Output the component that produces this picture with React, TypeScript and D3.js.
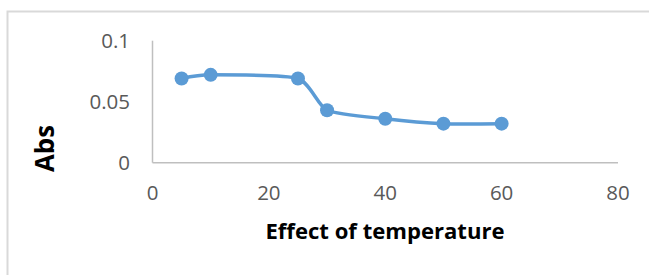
import React, { useEffect, useRef } from 'react';
import * as d3 from 'd3';

const temps = [5, 10, 25, 30, 40, 50, 60];
const absValues = [0.069, 0.072, 0.069, 0.043, 0.036, 0.032, 0.032];
const xTicks = [0, 20, 40, 60, 80];
const yTicks = [0, 0.05, 0.1];

const W = 649;
const H = 275;
const BLUE = '#5B9BD5';
const FONT = '"Open Sans", "Noto Sans", sans-serif';

const App = () => {
  const rootRef = useRef<SVGSVGElement>(null);

  useEffect(() => {
    document.body.style.margin = '0';
    const svg = d3.select(rootRef.current).attr('width', W).attr('height', H);
    svg.selectAll('*').remove();

    svg
      .append('rect')
      .attr('width', W)
      .attr('height', H)
      .attr('fill', '#fff');

    // chart area border
    svg
      .append('rect')
      .attr('x', 7.5)
      .attr('y', 11.5)
      .attr('width', 700)
      .attr('height', 400)
      .attr('fill', 'none')
      .attr('stroke', '#d9d9d9')
      .attr('stroke-width', 2);

    const x = d3.scaleLinear().domain([0, 80]).range([152.5, 618]);
    const y = d3.scaleLinear().domain([0, 0.1]).range([162.7, 40.7]);

    const axisColor = '#bfbfbf';
    svg
      .append('line')
      .attr('x1', x(0))
      .attr('x2', x(0))
      .attr('y1', y(0.1))
      .attr('y2', y(0))
      .attr('stroke', axisColor)
      .attr('stroke-width', 1.5);
    svg
      .append('line')
      .attr('x1', x(0))
      .attr('x2', x(80))
      .attr('y1', y(0))
      .attr('y2', y(0))
      .attr('stroke', axisColor)
      .attr('stroke-width', 1.5);

    svg
      .append('g')
      .selectAll('text')
      .data(yTicks)
      .enter()
      .append('text')
      .attr('x', 130)
      .attr('y', (d) => y(d))
      .attr('dy', '0.36em')
      .attr('text-anchor', 'end')
      .attr('font-family', FONT)
      .attr('font-size', 20.5)
      .attr('fill', '#595959')
      .text((d) => String(d));

    svg
      .append('g')
      .selectAll('text')
      .data(xTicks)
      .enter()
      .append('text')
      .attr('x', (d) => x(d))
      .attr('y', 193)
      .attr('dy', '0.36em')
      .attr('text-anchor', 'middle')
      .attr('font-family', FONT)
      .attr('font-size', 20.5)
      .attr('fill', '#595959')
      .text((d) => String(d));

    const data = temps.map((t, i) => [t, absValues[i]] as [number, number]);

    const line = d3
      .line<[number, number]>()
      .x((d) => x(d[0]))
      .y((d) => y(d[1]))
      .curve(d3.curveCardinal.tension(0.4));

    svg
      .append('path')
      .datum(data)
      .attr('d', line)
      .attr('fill', 'none')
      .attr('stroke', BLUE)
      .attr('stroke-width', 3.5);

    svg
      .append('g')
      .selectAll('circle')
      .data(data)
      .enter()
      .append('circle')
      .attr('cx', (d) => x(d[0]))
      .attr('cy', (d) => y(d[1]))
      .attr('r', 7)
      .attr('fill', BLUE);

    svg
      .append('text')
      .attr('x', 385)
      .attr('y', 239)
      .attr('text-anchor', 'middle')
      .attr('font-family', FONT)
      .attr('font-weight', 'bold')
      .attr('font-size', 22)
      .attr('textLength', 239)
      .attr('lengthAdjust', 'spacingAndGlyphs')
      .attr('fill', '#000')
      .text('Effect of temperature');

    svg
      .append('text')
      .attr('transform', 'translate(54,148.5) rotate(-90)')
      .attr('text-anchor', 'middle')
      .attr('font-family', FONT)
      .attr('font-weight', 'bold')
      .attr('font-size', 27)
      .attr('textLength', 47)
      .attr('lengthAdjust', 'spacingAndGlyphs')
      .attr('fill', '#000')
      .text('Abs');
  }, []);

  return <svg ref={rootRef} style={{ display: 'block' }}></svg>;
};

export default App;
